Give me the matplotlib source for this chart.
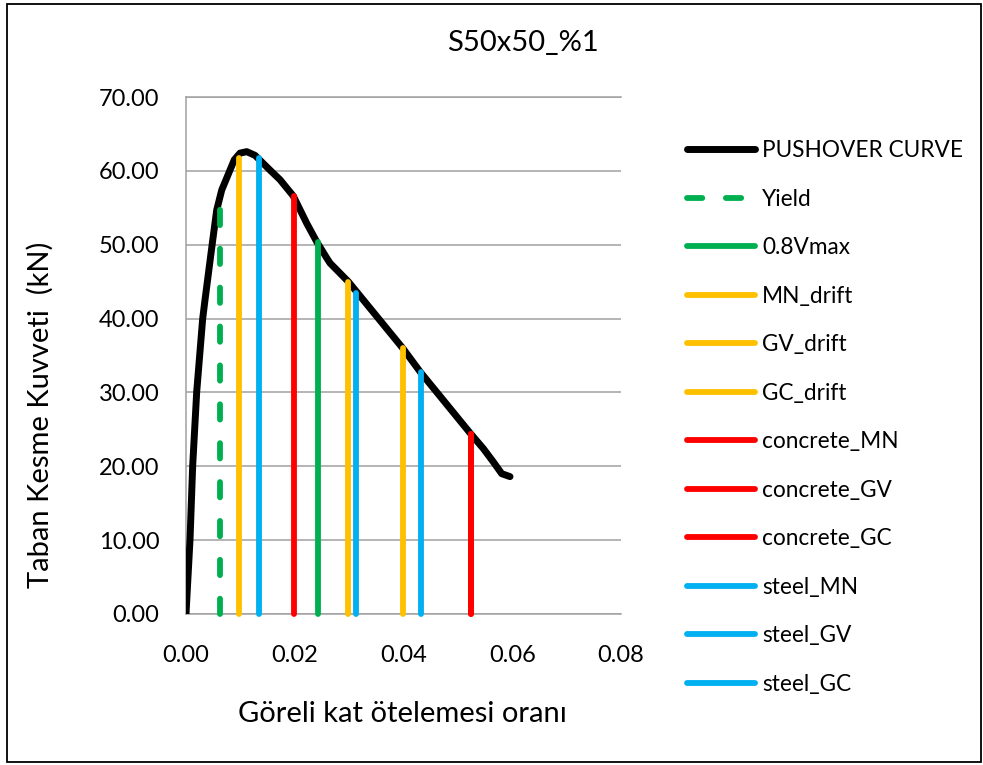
import matplotlib
matplotlib.use("Agg")
import matplotlib.pyplot as plt
from matplotlib.patches import Rectangle

plt.rcParams['font.family'] = ['Lato', 'DejaVu Sans']
plt.rcParams['lines.scale_dashes'] = False

# Pushover curve: drift ratio vs base shear (kN)
drift = [0.0, 0.00074, 0.00123, 0.00197, 0.00307, 0.00349, 0.00484, 0.00565,
         0.00657, 0.00809, 0.00888, 0.00993, 0.01116, 0.01269, 0.01545, 0.01729,
         0.01973, 0.0222, 0.02404, 0.02588, 0.0265, 0.02985, 0.03985, 0.04316,
         0.05236, 0.05468, 0.05651, 0.05806, 0.05959]
shear = [0.0, 10.1, 20.1, 30.1, 40.0, 42.5, 50.2, 54.7,
         57.4, 60.1, 61.5, 62.4, 62.6, 62.1, 60.1, 58.8,
         56.6, 52.9, 50.4, 48.2, 47.5, 45.0, 36.0, 32.7,
         24.4, 22.4, 20.6, 19.0, 18.6]

# Performance limits drawn as vertical markers
limit_names = ["Yield", "0.8Vmax", "MN_drift", "GV_drift", "GC_drift",
               "concrete_MN", "concrete_GV", "concrete_GC",
               "steel_MN", "steel_GV", "steel_GC"]
limit_drift = [0.00625, 0.02422, 0.0098, 0.02985, 0.03985,
               0.01986, 0.05236, 0.05236,
               0.01348, 0.03132, 0.04316]
limit_shear = [54.8, 50.4, 61.7, 45.0, 36.0,
               56.6, 24.4, 24.4,
               61.7, 43.4, 32.7]
limit_colors = ["#00B050", "#00B050", "#FFC000", "#FFC000", "#FFC000",
                "#FF0000", "#FF0000", "#FF0000",
                "#00B0F0", "#00B0F0", "#00B0F0"]

x_ticks = [0.00, 0.02, 0.04, 0.06, 0.08]
y_ticks = [0, 10, 20, 30, 40, 50, 60, 70]

W, H = 983, 765
def fx(px):
    return px / W
def fy(py):
    return 1 - py / H

fig = plt.figure(figsize=(W / 100, H / 100), dpi=100)
ax = fig.add_axes([fx(186), fy(614), (621 - 186) / W, (614 - 97) / H])

grid_c = "#a0a0a0"
ax.set_xlim(0, 0.08)
ax.set_ylim(0, 70)
ax.set_xticks(x_ticks)
ax.set_yticks(y_ticks)
ax.set_xticklabels([f"{v:.2f}" for v in x_ticks])
ax.set_yticklabels([f"{v:.2f}" for v in y_ticks])
ax.tick_params(axis='both', length=0, labelsize=17, colors="black")
ax.tick_params(axis='y', pad=19)
ax.tick_params(axis='x', pad=22)
ax.yaxis.grid(True, color=grid_c, linewidth=1.1)
ax.set_axisbelow(True)
for side in ("left", "top", "bottom"):
    ax.spines[side].set_color(grid_c)
    ax.spines[side].set_linewidth(1.1)
ax.spines["right"].set_visible(False)

handles = []
h, = ax.plot(drift, shear, color="black", linewidth=5.0,
             solid_joinstyle="round", solid_capstyle="round",
             label="PUSHOVER CURVE", zorder=3)
handles.append(h)

for name, xv, yv, c in zip(limit_names, limit_drift, limit_shear, limit_colors):
    if name == "Yield":
        h, = ax.plot([xv, xv], [0, yv], color=c, linewidth=4.2,
                     dashes=(11, 17), dash_capstyle="round",
                     label=name, zorder=4, clip_on=False)
    else:
        h, = ax.plot([xv, xv], [0, yv], color=c, linewidth=4.2,
                     solid_capstyle="round", label=name, zorder=4,
                     clip_on=False)
    handles.append(h)

fig.legend(handles=handles, labels=[hd.get_label() for hd in handles],
           loc="upper left", bbox_to_anchor=(fx(687), fy(140)),
           frameon=False, fontsize=16.3, handlelength=3.0,
           handletextpad=0.32, labelspacing=1.215,
           borderaxespad=0, borderpad=0)

fig.text(fx(523), fy(51), "S50x50_%1", ha="center", va="baseline", fontsize=21)
fig.text(fx(402), fy(722), "Göreli kat ötelemesi oranı", ha="center",
         va="baseline", fontsize=21)
fig.text(fx(40), fy(415), "Taban Kesme Kuvveti  (kN)", ha="center",
         va="center", rotation=90, fontsize=21)

fig.patches.append(Rectangle((fx(7), fy(762)), fx(981) - fx(7), fy(4) - fy(762),
                             transform=fig.transFigure, fill=False,
                             edgecolor="black", linewidth=1.3, zorder=10))

fig.savefig("out.png", dpi=100)
